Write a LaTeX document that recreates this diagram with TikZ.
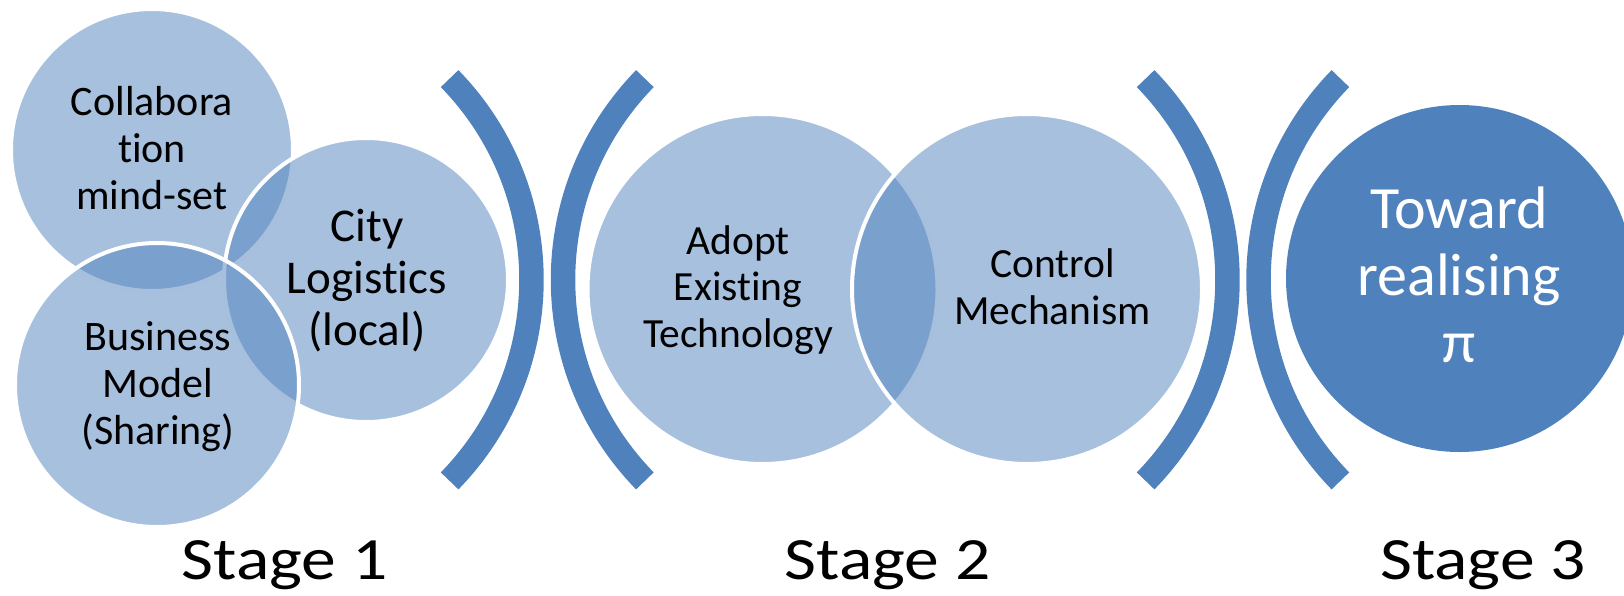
\documentclass[tikz,border=0pt]{standalone}
\usepackage{fontspec}
\setmainfont{Carlito}[Ligatures={NoCommon,NoContextual}, RawFeature={-liga,-clig,-calt,-dlig}]
\newfontfamily\stagefont{Carlito}[FakeStretch=1.16, Ligatures={NoCommon,NoContextual}, RawFeature={-liga,-clig,-calt,-dlig}]
\definecolor{accent}{HTML}{4F81BD}
\begin{document}
\begin{tikzpicture}[x=1pt,y=-1pt,
  disc/.style={circle, inner sep=0pt, minimum size=#1, fill=accent, fill opacity=0.5,
    draw=white, draw opacity=1, line width=4pt},
  solid disc/.style={circle, inner sep=0pt, minimum size=#1, fill=accent},
  lbl/.style={align=center, inner sep=0pt, text=black},
  bracket/.style={draw=accent, line width=24.5pt, line cap=butt},
  stagelbl/.style={anchor=base, inner sep=0pt, font=\stagefont\fontsize{60}{66}\selectfont}]
\useasboundingbox (0,0) rectangle (1624,595);
\clip (0,0) rectangle (1624,595);

% Stage 1: three overlapping circles
\node[disc=282pt] (collab) at (152,150) {};
\node[disc=284pt] (city)   at (366,280) {};
\node[disc=284pt] (biz)    at (157,385) {};
\node[lbl, font=\fontsize{42}{47}\selectfont] (collabt) at (152,148) {Collabora\\tion\\mind-set};
\node[lbl, font=\fontsize{47}{52}\selectfont] (cityt) at (367,281) {City\\Logistics\\(local)};
\node[lbl, font=\fontsize{42}{47}\selectfont] (bizt) at (158,387) {Business\\Model\\(Sharing)};

% Stage 2: two overlapping circles
\node[disc=350pt] (adopt)   at (762.5,289) {};
\node[disc=350pt] (control) at (1027,289) {};
\node[lbl, font=\fontsize{41.5}{46.5}\selectfont] (adoptt) at (738,290) {Adopt\\Existing\\Technology};
\node[lbl, font=\fontsize{41.5}{46.5}\selectfont] (controlt) at (1052.5,286.5) {Control\\Mechanism};

% Stage 3: solid circle
\node[solid disc=347pt] (toward) at (1459.5,278.5) {};
\node[lbl, text=white, font=\fontsize{60}{67}\selectfont] (towardt) at (1459,275) {Toward\\realising\\π};

% Separating brackets
\draw[bracket] (243.5,279.75)  ++(-44.3:288) arc[start angle=-44.3, end angle=44.3, radius=288];
\draw[bracket] (851,279.75)    ++(135.7:288) arc[start angle=135.7, end angle=224.3, radius=288];
\draw[bracket] (939.5,279.75)  ++(-44.3:288) arc[start angle=-44.3, end angle=44.3, radius=288];
\draw[bracket] (1546.5,279.75) ++(135.7:288) arc[start angle=135.7, end angle=224.3, radius=288];

% Stage captions
\node[stagelbl] (s1) at (284.5,579) {Stage 1};
\node[stagelbl] (s2) at (887.5,579) {Stage 2};
\node[stagelbl] (s3) at (1483,579) {Stage 3};
\end{tikzpicture}
\end{document}
